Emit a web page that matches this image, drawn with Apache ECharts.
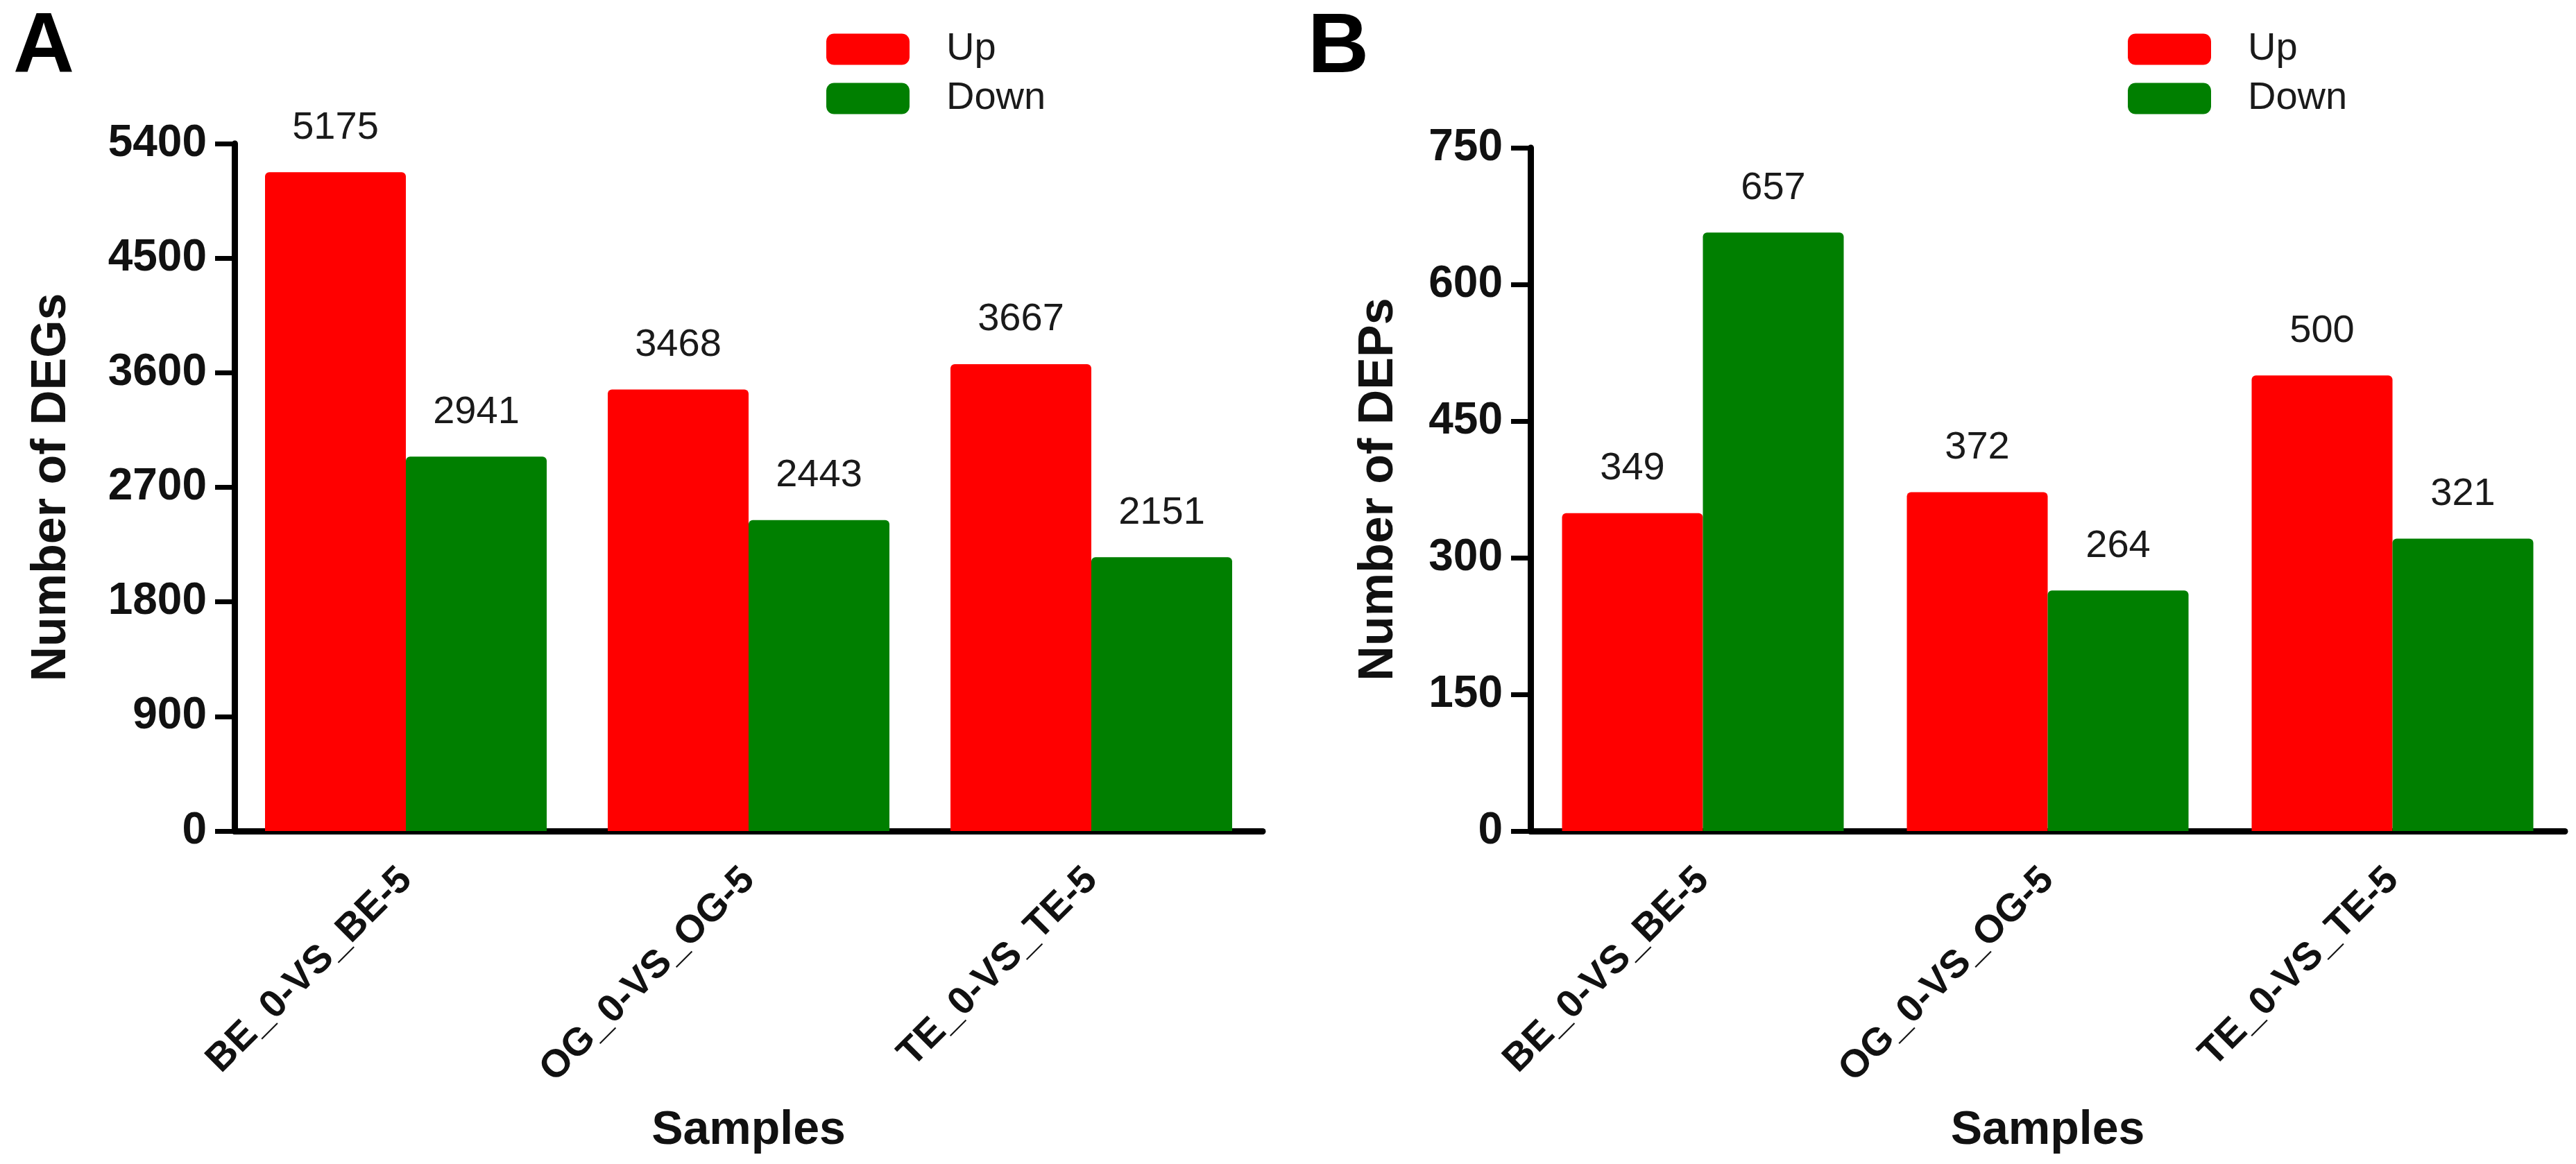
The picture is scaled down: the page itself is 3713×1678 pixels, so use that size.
<!DOCTYPE html>
<html>
<head>
<meta charset="utf-8">
<title>DEGs and DEPs</title>
<script src="https://cdn.jsdelivr.net/npm/echarts@6/dist/echarts.min.js"></script>
<style>
  html, body { margin: 0; padding: 0; background: #fff; }
  #chart { width: 3713px; height: 1678px; }
</style>
</head>
<body>
<div id="chart"></div>
<script>
// samples on the x axis (same for both panels)
const categories = ['BE_0-VS_BE-5', 'OG_0-VS_OG-5', 'TE_0-VS_TE-5'];

// panel A: number of DEGs
const degUp = [5175, 3468, 3667];
const degDown = [2941, 2443, 2151];

// panel B: number of DEPs
const depUp = [349, 372, 500];
const depDown = [657, 264, 321];

const RED = '#ff0000';
const GREEN = '#007f00';
const FONT = '"Liberation Sans", Arial, sans-serif';

const chart = echarts.init(document.getElementById('chart'));

function xAxis(gridIndex) {
  return {
    type: 'category',
    gridIndex: gridIndex,
    data: categories,
    name: 'Samples',
    nameLocation: 'middle',
    nameGap: 398,
    nameTextStyle: { fontFamily: FONT, fontSize: 68, fontWeight: 'bold', color: '#111' },
    axisLine: { lineStyle: { color: '#000', width: 9 } },
    axisTick: { alignWithLabel: true, length: 34, lineStyle: { color: '#000', width: 7 } },
    axisLabel: {
      rotate: 45,
      margin: 62,
      fontFamily: FONT,
      fontSize: 56,
      fontWeight: 'bold',
      color: '#111'
    }
  };
}

function yAxis(gridIndex, name, max, interval, nameGap) {
  return {
    type: 'value',
    gridIndex: gridIndex,
    min: 0,
    max: max,
    interval: interval,
    name: name,
    nameLocation: 'middle',
    nameGap: nameGap,
    nameTextStyle: { fontFamily: FONT, fontSize: 70, fontWeight: 'bold', color: '#111' },
    axisLine: { show: true, lineStyle: { color: '#000', width: 9 } },
    axisTick: { show: true, length: 28, lineStyle: { color: '#000', width: 7 } },
    axisLabel: {
      margin: 40,
      fontFamily: FONT,
      fontSize: 64,
      fontWeight: 'bold',
      color: '#111',
      formatter: v => String(v)
    },
    splitLine: { show: false }
  };
}

function bars(name, data, color, idx) {
  return {
    name: name,
    type: 'bar',
    xAxisIndex: idx,
    yAxisIndex: idx,
    data: data,
    barWidth: 203,
    barGap: '0%',
    itemStyle: { color: color, borderRadius: [6, 6, 0, 0] },
    label: {
      show: true,
      position: 'top',
      distance: 36,
      fontFamily: FONT,
      fontSize: 56,
      color: '#1a1a1a'
    }
  };
}

function legend(left) {
  return {
    data: ['Up', 'Down'],
    orient: 'vertical',
    left: left,
    top: 38,
    icon: 'roundRect',
    itemWidth: 120,
    itemHeight: 45,
    itemGap: 15,
    textStyle: { fontFamily: FONT, fontSize: 56, color: '#1a1a1a', padding: [0, 0, 0, 48] }
  };
}

chart.setOption({
  backgroundColor: '#fff',
  animation: false,
  title: [
    { text: 'A', left: 14, top: 4, textStyle: { fontFamily: FONT, fontSize: 122, fontWeight: 'bold', color: '#000' } },
    { text: 'B', left: 1880, top: 4, textStyle: { fontFamily: FONT, fontSize: 122, fontWeight: 'bold', color: '#000' } }
  ],
  legend: [legend(1186), legend(3062)],
  grid: [
    { left: 338, top: 207, width: 1482, height: 991 },
    { left: 2206, top: 213, width: 1491, height: 985 }
  ],
  xAxis: [xAxis(0), xAxis(1)],
  yAxis: [
    yAxis(0, 'Number of DEGs', 5400, 900, 228),
    yAxis(1, 'Number of DEPs', 750, 150, 183)
  ],
  series: [
    bars('Up', degUp, RED, 0),
    bars('Down', degDown, GREEN, 0),
    bars('Up', depUp, RED, 1),
    bars('Down', depDown, GREEN, 1)
  ]
});
</script>
</body>
</html>
